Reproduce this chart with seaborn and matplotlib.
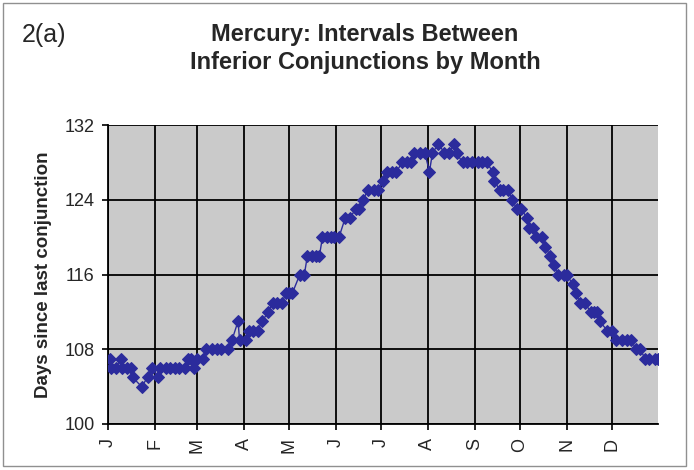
import numpy as np
import pandas as pd
import seaborn as sns
import matplotlib.pyplot as plt
from matplotlib.patches import Rectangle

# day of year of each conjunction and the interval since the previous one (days)
days = [1, 2, 5, 8, 9, 12, 15, 16, 22, 26, 29, 33, 34, 38, 41, 44, 47, 51,
        53, 55, 57, 59, 63, 65, 69, 72, 75, 79, 82, 86, 87, 91, 93, 96, 99,
        102, 106, 109, 112, 115, 118, 120, 122, 127, 130, 132, 135, 138, 140,
        142, 145, 148, 150, 153, 157, 160, 164, 166, 169, 172, 176, 179, 182,
        185, 188, 191, 195, 198, 201, 203, 207, 210, 213, 215, 219, 223, 226,
        229, 231, 235, 238, 241, 245, 248, 251, 255, 256, 260, 262, 265, 268,
        271, 274, 278, 279, 282, 284, 288, 290, 293, 296, 298, 302, 304, 308,
        310, 313, 316, 320, 322, 324, 326, 331, 334, 337, 341, 344, 347, 350,
        353, 356, 359, 363, 365]
interval = [107, 106, 106, 107, 106, 106, 106, 105, 104, 105, 106, 105, 106,
            106, 106, 106, 106, 106, 107, 107, 106, 107, 107, 108, 108, 108,
            108, 108, 109, 111, 109, 109, 110, 110, 110, 111, 112, 113, 113,
            113, 114, 114, 114, 116, 116, 118, 118, 118, 118, 120, 120, 120,
            120, 120, 122, 122, 123, 123, 124, 125, 125, 125, 126, 127, 127,
            127, 128, 128, 128, 129, 129, 129, 127, 129, 130, 129, 129, 130,
            129, 128, 128, 128, 128, 128, 128, 127, 126, 125, 125, 125, 124,
            123, 123, 122, 121, 121, 120, 120, 119, 118, 117, 116, 116, 116,
            115, 114, 113, 113, 112, 112, 112, 111, 110, 110, 109, 109, 109,
            109, 108, 108, 107, 107, 107, 107]

month_starts = [0, 31, 59, 90, 120, 151, 181, 212, 243, 273, 304, 334]
month_labels = ["J", "F", "M", "A", "M", "J", "J", "A", "S", "O", "N", "D"]
y_ticks = [100, 108, 116, 124, 132]

df = pd.DataFrame({"day": days, "interval": interval})

sns.set_style("white")
plt.rcParams['font.family'] = ['Liberation Sans Narrow', 'Liberation Sans', 'DejaVu Sans']

fig = plt.figure(figsize=(6.94, 4.70), dpi=100)
ax = fig.add_axes([0.1563, 0.0979, 0.7925, 0.636])
ax.set_facecolor("#cacaca")

color = "#2b2b9c"
sns.lineplot(data=df, x="day", y="interval", sort=False, estimator=None,
             marker="D", markersize=6.5, markeredgecolor=color, color=color,
             linewidth=1, ax=ax, zorder=3)

ax.set_xlim(0, 365)
ax.set_ylim(100, 132)
ax.set_xticks(month_starts)
ax.set_xticklabels(month_labels, rotation=90, fontsize=13)
ax.set_yticks(y_ticks)
ax.set_yticklabels([str(v) for v in y_ticks], fontsize=13)
ax.grid(True, color="black", linewidth=1.3)
ax.set_axisbelow(True)
ax.tick_params(axis="both", which="major", length=4, width=1.2, color="black",
               direction="out", pad=6, bottom=True, left=True)
for side in ["top", "right"]:
    ax.spines[side].set_visible(False)
for side in ["left", "bottom"]:
    ax.spines[side].set_color("black")
    ax.spines[side].set_linewidth(1.3)

ax.set_xlabel("")
ax.set_ylabel("Days since last conjunction", fontsize=13.5, fontweight="bold",
              family=['Liberation Sans', 'DejaVu Sans'], labelpad=9)

fig.text(0.526, 0.897, "Mercury: Intervals Between\nInferior Conjunctions by Month",
         ha="center", va="center", fontsize=17, fontweight="bold", linespacing=1.3)
fig.text(0.032, 0.925, "2(a)", ha="left", va="center", fontsize=18)

fig.patches.append(Rectangle((0.004, 0.008), 0.985, 0.985, transform=fig.transFigure,
                             fill=False, edgecolor="#909090", linewidth=1))

fig.savefig("out.png", dpi=100)
